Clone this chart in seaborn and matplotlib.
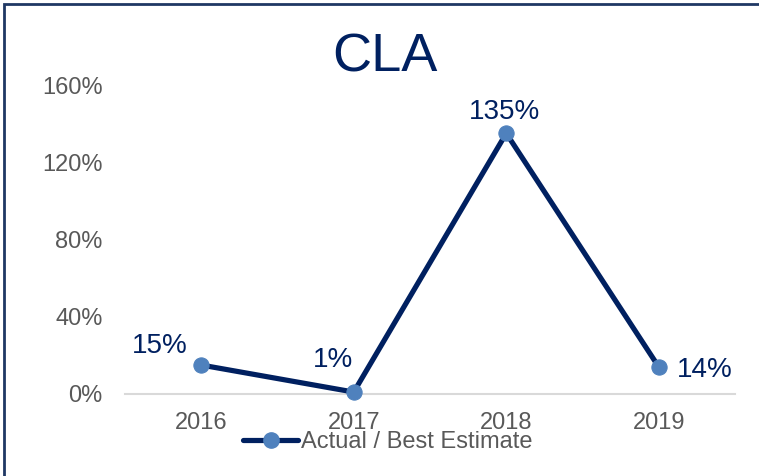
import matplotlib
matplotlib.use("Agg")
import matplotlib.pyplot as plt
import seaborn as sns
import pandas as pd
from matplotlib.patches import Rectangle
from matplotlib.lines import Line2D

years = ["2016", "2017", "2018", "2019"]
values = [0.15, 0.01, 1.35, 0.14]
labels = ["15%", "1%", "135%", "14%"]
yticks = [0, 0.4, 0.8, 1.2, 1.6]
ytick_labels = ["0%", "40%", "80%", "120%", "160%"]
title = "CLA"
series_name = "Actual / Best Estimate"

sns.set_theme(style="white")
plt.rcParams["font.family"] = ["Liberation Sans", "DejaVu Sans"]

navy = "#002060"
marker_blue = "#4F81BD"
gray = "#595959"

df = pd.DataFrame({"year": years, "value": values})

fig = plt.figure(figsize=(7.59, 4.76), dpi=100)
ax = fig.add_axes([125 / 759, 1 - 394 / 476, 610 / 759, (394 - 85) / 476])

sns.lineplot(data=df, x="year", y="value", ax=ax, color=navy, linewidth=3.75,
             marker="o", markersize=11, markerfacecolor=marker_blue,
             markeredgecolor=marker_blue, clip_on=False, zorder=5)

ax.set_xlim(-0.5, 3.5)
ax.set_ylim(0, 1.6)
ax.set_yticks(yticks)
ax.set_yticklabels(ytick_labels)
ax.tick_params(axis="y", length=0, pad=16, labelsize=17, labelcolor=gray)
ax.tick_params(axis="x", length=0, pad=13, labelsize=17, labelcolor=gray)
ax.set_xlabel("")
ax.set_ylabel("")
for s in ["top", "right", "left"]:
    ax.spines[s].set_visible(False)
ax.spines["bottom"].set_color("#D9D9D9")
ax.spines["bottom"].set_linewidth(1.5)

offsets = [(-30, 14), (-15, 23), (-1, 15), (33, -2)]
for i, (v, lab) in enumerate(zip(values, labels)):
    dx, dy = offsets[i]
    ax.annotate(lab, (i, v), xytext=(dx, dy), textcoords="offset points",
                ha="center", va="center", fontsize=20, color=navy)

fig.text(385 / 759, 1 - 57 / 476, title, ha="center", va="center",
         fontsize=39, color=navy)

handle = Line2D([], [], color=navy, linewidth=3.75, marker="o", markersize=11,
                markerfacecolor=marker_blue, markeredgecolor=marker_blue)
fig.legend([handle], [series_name], loc="center left",
           bbox_to_anchor=(243 / 759, 1 - 442 / 476), frameon=False,
           fontsize=17, labelcolor=gray, handlelength=2.35, handletextpad=0.1,
           borderpad=0, borderaxespad=0)

fig.patches.append(Rectangle((4 / 759, -0.1), 1.2, 1 - 4 / 476 + 0.1,
                             transform=fig.transFigure, fill=False,
                             edgecolor="#1F3864", linewidth=2))

fig.savefig("out.png", dpi=100)
